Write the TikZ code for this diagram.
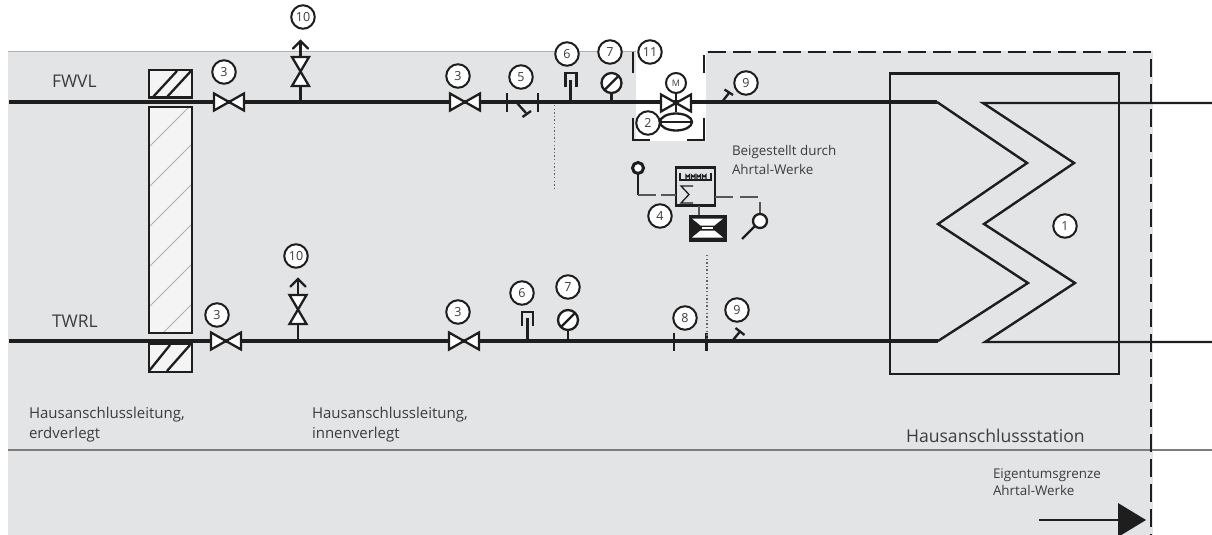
\documentclass[tikz,border=0pt]{standalone}
\usepackage{fontspec}
\setmainfont{Open Sans}
\definecolor{bggrey}{HTML}{E3E4E6}
\definecolor{ink}{HTML}{1E1E1E}
\definecolor{txt}{HTML}{3C3C3C}
\definecolor{rulegrey}{HTML}{7C7C7C}
\tikzset{
  every node/.style={inner sep=0pt,outer sep=0pt},
  callout/.style={circle,draw=ink,line width=2pt,fill=white,minimum size=23.5pt,font=\fontsize{12.5}{14}\selectfont,text=txt},
  label text/.style={anchor=base west,text=txt,font=\fontsize{15}{18}\selectfont},
  small text/.style={anchor=base west,text=txt,font=\fontsize{13.4}{15}\selectfont},
  sym/.style={draw=ink,line width=2.3pt},
  thin sym/.style={draw=ink,line width=1.3pt},
  pipe/.style={draw=ink,line width=4pt},
  hx/.style={draw=ink,line width=2.4pt},
  ctrl/.style={draw=ink!75,line width=1.3pt},
  dots/.style={draw=ink!70,line width=1.2pt,dash pattern=on 1.4pt off 2.2pt},
  hvalve/.pic={\draw[sym,fill=white,line join=miter] (-15,-8.5)--(15,8.5)--(15,-8.5)--(-15,8.5)--cycle;},
  vvalve/.pic={\draw[sym,fill=white,line join=miter] (-8.5,-14.5)--(8.5,14.5)--(-8.5,14.5)--(8.5,-14.5)--cycle;
     \draw[sym] (0,-14.5)--(0,-30);
     \draw[sym,line cap=round] (-7.5,-23)--(0,-30.5)--(7.5,-23);},
  gauge/.pic={\draw[sym,fill=white] (0,0) circle (10); \draw[sym] (-6.5,6.5)--(6.5,-6.5);},
  seal/.pic={\draw[sym] (-5.5,7)--(-5.5,-7)--(5.5,-7)--(5.5,7);}
}
\begin{document}
\begin{tikzpicture}[x=1pt,y=-1pt]
\useasboundingbox (0,0) rectangle (1212,535);
% background
\fill[bggrey] (8,51) rectangle (1153,535);
\fill[white] (636,51) rectangle (706,140.5);
\draw[rulegrey!60,line width=0.8pt] (8,51)--(636,51);
\draw[rulegrey,line width=1.6pt] (8,450)--(1212,450);
% walls
\fill[white!60!bggrey] (149,107) rectangle (192,333);
\begin{scope}
\clip (149,107) rectangle (192,333);
\foreach \y in {146,186,226,266,306,346,386}
  \draw[gray!60,line width=1pt] (150,\y)--(192,\y-42);
\end{scope}
\draw[hx] (149,107) rectangle (192,333);
\draw[hx,fill=white!60!bggrey] (149,70) rectangle (192,97.5);
\draw[sym] (153,97)--(177,71); \draw[sym] (167,97)--(191,71);
\draw[hx,fill=white!60!bggrey] (149,344) rectangle (192,372);
\draw[sym] (149,371)--(170,345); \draw[sym] (167,371)--(190,345);
% pipes
\coordinate (fwL) at (9,102);
\coordinate (fwR) at (937,102);
\coordinate (twL) at (9,341);
\coordinate (twR) at (938,341);
\coordinate (fwEnd) at (1212,103);
\coordinate (twEnd) at (1212,342);
\draw[pipe] (fwL)--(fwR);
\draw[pipe] (twL)--(twR);
% heat exchanger
\draw[hx] (890,73.5) rectangle (1119,374);
\draw[hx,line join=miter] (fwR)--(1027,163)--(938,224)--(1028,283)--(twR);
\draw[hx,line join=miter] (fwEnd)--(983,103)--(1074,163)--(984,224)--(1075,283)--(985,342)--(twEnd);
\node[callout] (n1) at (1065,226) {1};
% ownership boundary
\draw[draw=ink,line width=2.4pt,dash pattern=on 18pt off 7pt] (704,73)--(704,52)--(1151,52)--(1151,535);
% white-notch brackets
\draw[draw=ink,line width=2.2pt] (633,52)--(633,73);
\draw[draw=ink,line width=2.2pt] (633,118)--(633,140)--(650,140);
\draw[draw=ink,line width=2.2pt] (687,140)--(704,140)--(704,118);
% valves
\path (229,102) pic {hvalve};
\path (465,102) pic {hvalve};
\path (226,341) pic {hvalve};
\path (464,341) pic {hvalve};
\path (676,103) pic {hvalve};
\draw[sym] (300.5,102)--(300.5,86);
\path (300.5,71.5) pic {vvalve};
\draw[sym] (298,341)--(298,324);
\path (298,309.5) pic {vvalve};
% 5
\draw[sym] (507,93)--(507,112);
\draw[sym] (538,93)--(538,112);
\draw[sym] (517,103)--(526,113);
\draw[sym] (522.5,117)--(531,111);
% 6
\draw[sym] (570.5,102)--(570.5,80); \path (571,80) pic {seal};
\draw[sym] (527.5,341)--(527.5,318); \path (527.5,319) pic {seal};
% 7
\draw[sym] (611.5,102)--(611.5,90); \path (611.5,83) pic {gauge};
\draw[sym] (568,341)--(568,328); \path (568,320) pic {gauge};
% 8
\draw[sym] (674,332.5)--(674,351);
\draw[sym] (706.5,332.5)--(706.5,351);
% 9
\draw[sym] (722,102)--(729,93); \draw[sym] (724.5,89.5)--(733,95);
\draw[sym] (733,340)--(740,331.5); \draw[sym] (735.5,328)--(744.5,335);
% dotted
\draw[dots] (554.5,105)--(554.5,188);
\draw[dots] (707,255)--(707,340);
% motor valve
\node[callout,minimum size=20pt,font=\fontsize{9}{10}\selectfont] (nM) at (676,83) {M};
\draw[sym,fill=white] (676,122) ellipse (16 and 8.5);
\draw[sym] (660,122)--(692,122);
\draw[sym] (676,93)--(676,112);
% controller
\node[draw=ink,line width=2.6pt,fill=bggrey,minimum width=39pt,minimum height=38pt] (ctl) at (695.5,186.5) {};
\draw[thin sym] (680,173)--(680,180)--(711,180)--(711,173);
\foreach \x in {686,691.5,697,702.5}
  \draw[thin sym] (\x,180) -- (\x,175) arc (180:0:1.7) -- (\x+3.4,180);
\draw[thin sym,line join=miter] (693,186)--(681,186)--(689,194.5)--(681,203)--(693,203);
\coordinate (s1a) at (638,175);
\coordinate (s1b) at (638,195);
\draw[sym] (s1a)--(s1b);
\draw[ctrl,dash pattern=on 18pt off 5pt] (s1b)--(ctl.west |- s1b);
\coordinate (s2b) at (760,197);
\draw[ctrl,dash pattern=on 18pt off 7pt] (ctl.east |- s2b)--(s2b)--(760,213);
\draw[sym,line width=3pt,fill=white] (638,168) circle (5.5);
\draw[sym,fill=white] (760,221) circle (7);
\draw[sym] (755,226)--(742,239);
\draw[ctrl] (699,206)--(699,215);
\node[draw=ink,fill=ink,line width=2pt,minimum width=36pt,minimum height=25pt] (act) at (707.5,228) {};
\fill[white] (692,218.5)--(723,218.5)--(714.5,225.5)--(700.5,225.5)--cycle;
\fill[white] (692,237.5)--(723,237.5)--(714.5,230.5)--(700.5,230.5)--cycle;
\fill[white] (702,227.2) rectangle (713,228.8);
% callouts
\node[callout] (n10a) at (303,17) {10};
\node[callout] (n3a) at (224,72) {3};
\node[callout] (n3b) at (458,76) {3};
\node[callout] (n5) at (521,77) {5};
\node[callout] (n6a) at (567,54) {6};
\node[callout] (n7a) at (610,52) {7};
\node[callout] (n11) at (650,52) {11};
\node[callout] (n2) at (648,123) {2};
\node[callout] (n9a) at (746,83) {9};
\node[callout] (n4) at (660,216) {4};
\node[callout] (n10b) at (296,256) {10};
\node[callout] (n3c) at (217,315) {3};
\node[callout] (n3d) at (458,312) {3};
\node[callout] (n6b) at (522,293) {6};
\node[callout] (n7b) at (568,287) {7};
\node[callout] (n8) at (685,318) {8};
\node[callout] (n9b) at (737,310) {9};
% texts
\node[label text,font=\fontsize{17.5}{20}\selectfont] (t1) at (52,88) {FWVL};
\node[label text,font=\fontsize{17.5}{20}\selectfont] (t2) at (52,327) {TWRL};
\node[label text] (t3) at (29,418) {Hausanschlussleitung,};
\node[label text] (t4) at (29,438) {erdverlegt};
\node[label text] (t5) at (312,418) {Hausanschlussleitung,};
\node[label text] (t6) at (312,438) {innenverlegt};
\node[small text] (t7) at (732,155) {Beigestellt durch};
\node[small text] (t8) at (732,174) {Ahrtal-Werke};
\node[label text,font=\fontsize{17.6}{20}\selectfont] (t9) at (906,442) {Hausanschlussstation};
\node[small text] (t10) at (993,478) {Eigentumsgrenze};
\node[small text] (t11) at (993,495) {Ahrtal-Werke};
% arrow
\coordinate (arS) at (1039,520);
\coordinate (arE) at (1120,520);
\draw[draw=ink,line width=2.4pt] (arS)--(arE);
\begin{scope}
\clip (1100,495) rectangle (1150,535);
\fill[ink] (1118,503)--(1146,520)--(1118,537)--cycle;
\end{scope}
\end{tikzpicture}
\end{document}
